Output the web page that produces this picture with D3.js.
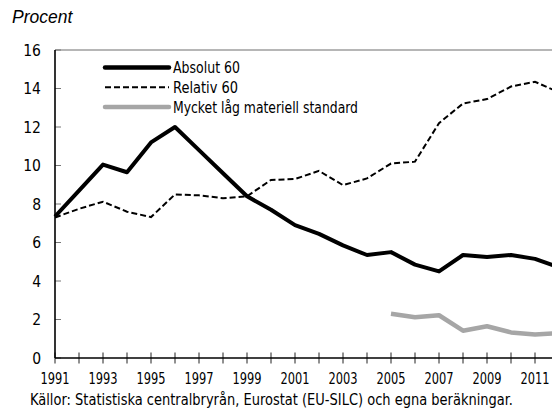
<!DOCTYPE html>
<html>
<head>
<meta charset="utf-8">
<script src="https://cdn.jsdelivr.net/npm/d3@7"></script>
<style>
  body { margin: 0; background: #fff; }
  .cond { font-family: "Liberation Sans Narrow", "DejaVu Sans Condensed", "Roboto Condensed", sans-serif; font-stretch: condensed; }
</style>
</head>
<body>
<div id="chart"></div>
<script>
const years = d3.range(1991, 2013);
const absolut60 = [7.35, 8.7, 10.05, 9.65, 11.2, 12.0, 10.8, 9.6, 8.4, 7.7, 6.9, 6.45, 5.85, 5.35, 5.5, 4.85, 4.5, 5.35, 5.25, 5.35, 5.15, 4.7];
const relativ60 = [7.3, 7.75, 8.12, 7.6, 7.32, 8.5, 8.45, 8.3, 8.4, 9.25, 9.3, 9.72, 8.98, 9.33, 10.1, 10.2, 12.2, 13.22, 13.45, 14.1, 14.35, 13.8];
const lagYears = d3.range(2005, 2013);
const lagStandard = [2.3, 2.12, 2.22, 1.42, 1.65, 1.33, 1.22, 1.3];
const yTicks = [0, 2, 4, 6, 8, 10, 12, 14, 16];
const xTickYears = d3.range(1991, 2013);
const xLabelYears = d3.range(1991, 2012, 2);
const legendLabels = ["Absolut 60", "Relativ 60", "Mycket låg materiell standard"];

const width = 552, height = 414;
const margin = { top: 50, left: 55, bottom: 56 };
const plotH = height - margin.top - margin.bottom;

const svg = d3.select("#chart").append("svg")
  .attr("width", width)
  .attr("height", height);

const x = d3.scaleLinear().domain([1991, 2012]).range([margin.left, margin.left + 21 * 24]);
const y = d3.scaleLinear().domain([0, 16]).range([margin.top + plotH, margin.top]);

// title
svg.append("text")
  .attr("x", 12).attr("y", 23)
  .style("font-family", "'Liberation Sans', Arial, sans-serif")
  .style("font-style", "italic")
  .style("font-size", "17.5px")
  .text("Procent");

// top frame line
svg.append("line")
  .attr("x1", margin.left).attr("x2", width)
  .attr("y1", y(16)).attr("y2", y(16))
  .attr("stroke", "#6e6e6e").attr("stroke-width", 1.2);

// y ticks (inside) and labels
const yAxis = svg.append("g");
yAxis.selectAll("line").data(yTicks).join("line")
  .attr("x1", margin.left).attr("x2", margin.left + 6)
  .attr("y1", d => y(d)).attr("y2", d => y(d))
  .attr("stroke", "#777").attr("stroke-width", 1);
yAxis.selectAll("text").data(yTicks).join("text")
  .attr("class", "cond")
  .attr("x", 41).attr("y", d => y(d) + 5.5)
  .attr("text-anchor", "end")
  .style("font-size", "15.5px")
  .text(d => d);

// x ticks crossing axis and labels
const xAxis = svg.append("g");
xAxis.selectAll("line").data(xTickYears).join("line")
  .attr("x1", d => x(d)).attr("x2", d => x(d))
  .attr("y1", y(0) - 5.5).attr("y2", y(0) + 5.5)
  .attr("stroke", "#222").attr("stroke-width", 1);
xAxis.selectAll("text").data(xLabelYears).join("text")
  .attr("class", "cond")
  .attr("x", d => x(d)).attr("y", 384)
  .attr("text-anchor", "middle")
  .style("font-size", "16px")
  .attr("textLength", 29).attr("lengthAdjust", "spacingAndGlyphs")
  .text(d => d);

// axes lines
svg.append("line")
  .attr("x1", margin.left).attr("x2", margin.left)
  .attr("y1", y(16)).attr("y2", y(0))
  .attr("stroke", "#000").attr("stroke-width", 1.6);
svg.append("line")
  .attr("x1", margin.left).attr("x2", width)
  .attr("y1", y(0)).attr("y2", y(0))
  .attr("stroke", "#000").attr("stroke-width", 1.6);

const line = d3.line().x(d => x(d[0])).y(d => y(d[1]));

svg.append("path")
  .datum(lagYears.map((yr, i) => [yr, lagStandard[i]]))
  .attr("d", line)
  .attr("fill", "none").attr("stroke", "#a6a6a6")
  .attr("stroke-width", 4.5).attr("stroke-linejoin", "round");

svg.append("path")
  .datum(years.map((yr, i) => [yr, relativ60[i]]))
  .attr("d", line)
  .attr("fill", "none").attr("stroke", "#000")
  .attr("stroke-width", 2).attr("stroke-dasharray", "6,3");

svg.append("path")
  .datum(years.map((yr, i) => [yr, absolut60[i]]))
  .attr("d", line)
  .attr("fill", "none").attr("stroke", "#000")
  .attr("stroke-width", 4).attr("stroke-linejoin", "round");

// legend
const legendStyles = [
  { color: "#000", w: 4.5, dash: null, cap: "round", len: 67 },
  { color: "#000", w: 2, dash: "6,3", cap: "butt", len: 65 },
  { color: "#a6a6a6", w: 4.5, dash: null, cap: "round", len: 185 }
];
const legend = svg.append("g");
legendLabels.forEach((lab, i) => {
  const ly = 67.5 + i * 19.8;
  const s = legendStyles[i];
  legend.append("line")
    .attr("x1", 105).attr("x2", 169)
    .attr("y1", ly).attr("y2", ly)
    .attr("stroke", s.color).attr("stroke-width", s.w)
    .attr("stroke-linecap", s.cap)
    .attr("stroke-dasharray", s.dash);
  legend.append("text")
    .attr("class", "cond")
    .attr("x", 173).attr("y", ly + 5.5)
    .style("font-size", "15.5px")
    .attr("textLength", s.len).attr("lengthAdjust", "spacingAndGlyphs")
    .text(lab);
});

// source
svg.append("text")
  .attr("class", "cond")
  .attr("x", 30).attr("y", 405)
  .style("font-size", "15.5px")
  .attr("textLength", 483).attr("lengthAdjust", "spacingAndGlyphs")
  .text("Källor: Statistiska centralbryrån, Eurostat (EU-SILC) och egna beräkningar.");
</script>
</body>
</html>
